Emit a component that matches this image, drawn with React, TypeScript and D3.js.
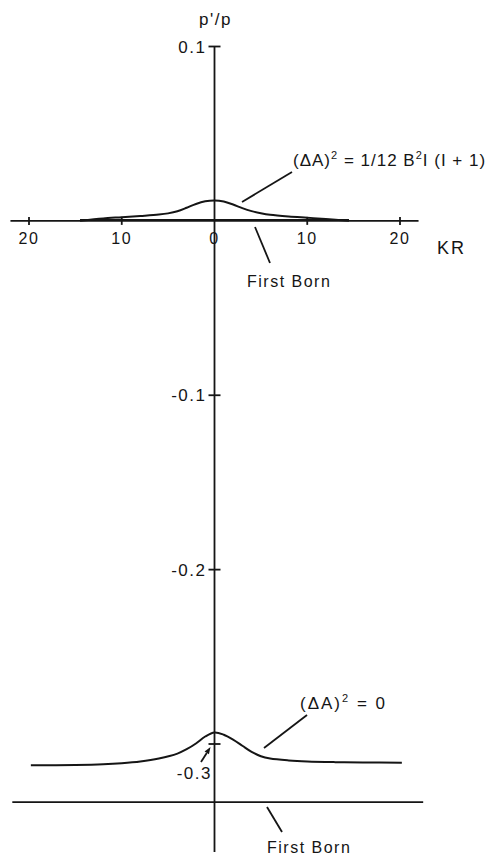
import React from 'react';
import { scaleLinear, line, curveCatmullRom } from 'd3';

const width = 498;
const height = 857;

// upper curve: (ΔA)^2 = 1/12 B^2 I(I+1)
const upperKR = [-14.5, -13, -12, -10, -8, -6, -5, -4, -3, -2, -1, 0, 1, 2, 3, 4, 5, 6, 8, 10, 12, 14.5];
const upperVal = [0, 0.0009, 0.0014, 0.0021, 0.0028, 0.0036, 0.0043, 0.0055, 0.0075, 0.0097, 0.0112, 0.0117,
	0.0111, 0.0094, 0.0073, 0.0056, 0.0044, 0.0035, 0.0025, 0.0018, 0.0011, 0];

// lower curve: (ΔA)^2 = 0
const lowerKR = [-19.8, -15, -12, -10, -8, -6, -4, -3, -2, -1, 0, 1, 2, 3, 4, 5, 6, 8, 10, 13, 16, 20.2];
const lowerVal = [-0.3122, -0.312, -0.3116, -0.311, -0.31, -0.3083, -0.3055, -0.303, -0.2997, -0.2957, -0.2934,
	-0.2947, -0.2975, -0.301, -0.3045, -0.307, -0.3083, -0.3094, -0.31, -0.3104, -0.3106, -0.3107];

const upperBorn = [-14.5, 14.5]; // first Born at 0
const lowerBornKR = [-21.8, 22.5];
const lowerBornVal = -0.3333;

const xTicks = [-20, -10, 10, 20];
const xTickLabels = ['20', '10', '0', '10', '20'];
const xLabelAt = [-20, -10, 0, 10, 20];
const yTicks = [0.1, -0.1, -0.2, -0.3];
const yTickLabels = ['0.1', '-0.1', '-0.2', '-0.3'];

const ink = '#151515';
const font = '"Liberation Sans", Arial, sans-serif';

const App = () => {
	const x = scaleLinear().domain([-20, 20]).range([29, 400]);
	const y = scaleLinear().domain([0.1, -0.3]).range([46.5, 744]);
	const x0 = x(0);
	const y0 = y(0);

	const upperD = line<number>()
		.x((d, i) => x(upperKR[i]))
		.y((d) => y(d))
		.curve(curveCatmullRom.alpha(0.5))(upperVal);
	const lowerD = line<number>()
		.x((d, i) => x(lowerKR[i]))
		.y((d) => y(d))
		.curve(curveCatmullRom.alpha(0.5))(lowerVal);

	// arrow from the -0.3 label up to its tick
	const ax1 = 201, ay1 = 762, ax2 = 210.5, ay2 = 747;
	const len = Math.hypot(ax2 - ax1, ay2 - ay1);
	const ux = (ax2 - ax1) / len, uy = (ay2 - ay1) / len;
	const bx = ax2 - ux * 7, by = ay2 - uy * 7;
	const head = `M${ax2},${ay2} L${bx - uy * 2.6},${by + ux * 2.6} L${bx + uy * 2.6},${by - ux * 2.6} Z`;

	return (
		<svg width={width} height={height} style={{ position: 'absolute', left: 0, top: 0 }} fontFamily={font}>
			<g stroke={ink} fill="none" strokeWidth={1.8}>
				{/* axes */}
				<line x1={x0} x2={x0} y1={y(0.1)} y2={852} />
				<line x1={x(-22)} x2={x(22)} y1={y0} y2={y0} />
				{/* first Born, upper */}
				<line x1={x(upperBorn[0])} x2={x(upperBorn[1])} y1={y0 - 1} y2={y0 - 1} strokeWidth={1.6} />
				{/* first Born, lower */}
				<line x1={x(lowerBornKR[0])} x2={x(lowerBornKR[1])} y1={y(lowerBornVal)} y2={y(lowerBornVal)} />
				{/* ticks */}
				{yTicks.map((t) => (
					<line key={t} x1={x0 - 6} x2={x0 + 6} y1={y(t)} y2={y(t)} />
				))}
				{xTicks.map((t) => (
					<line key={t} x1={x(t)} x2={x(t)} y1={y0 - 4} y2={y0 + 4} />
				))}
				<path d={upperD || ''} strokeWidth={2} />
				<path d={lowerD || ''} strokeWidth={2} />
				{/* leader lines */}
				<line x1={242} y1={202} x2={292} y2={172} />
				<line x1={255} y1={227} x2={270} y2={263} />
				<line x1={264} y1={748} x2={307} y2={715} />
				<line x1={267} y1={807} x2={282} y2={832} />
				<line x1={ax1} y1={ay1} x2={bx} y2={by} />
			</g>
			<path d={head} fill={ink} />

			<g fill={ink} fontSize={16} letterSpacing={1.5}>
				<text x={x0 + 1} y={25} textAnchor="middle" fontSize={17}>p'/p</text>
				{yTicks.map((t, i) =>
					t === -0.3 ? (
						<text key={t} x={212} y={779} textAnchor="end" fontSize={17}>{yTickLabels[i]}</text>
					) : (
						<text key={t} x={x0 - 8} y={y(t) + 6} textAnchor="end" fontSize={17}>{yTickLabels[i]}</text>
					)
				)}
				{xLabelAt.map((t, i) => (
					<text key={i} x={x(t)} y={y0 + 23} textAnchor="middle">{xTickLabels[i]}</text>
				))}
				<text x={437} y={254} fontSize={18} letterSpacing={2}>KR</text>
				<text x={247} y={287}>First Born</text>
				<text x={267} y={853}>First Born</text>
				<text x={293} y={166} fontSize={17} letterSpacing={1}>
					(ΔA)<tspan dy={-7} fontSize={11}>2</tspan>
					<tspan dy={7}> = 1/12 B</tspan>
					<tspan dy={-7} fontSize={11}>2</tspan>
					<tspan dy={7}>I (I + 1)</tspan>
				</text>
				<text x={300} y={709} fontSize={17} letterSpacing={2}>
					(ΔA)<tspan dy={-7} fontSize={11}>2</tspan>
					<tspan dy={7}> = 0</tspan>
				</text>
			</g>
		</svg>
	);
};

export default App;
